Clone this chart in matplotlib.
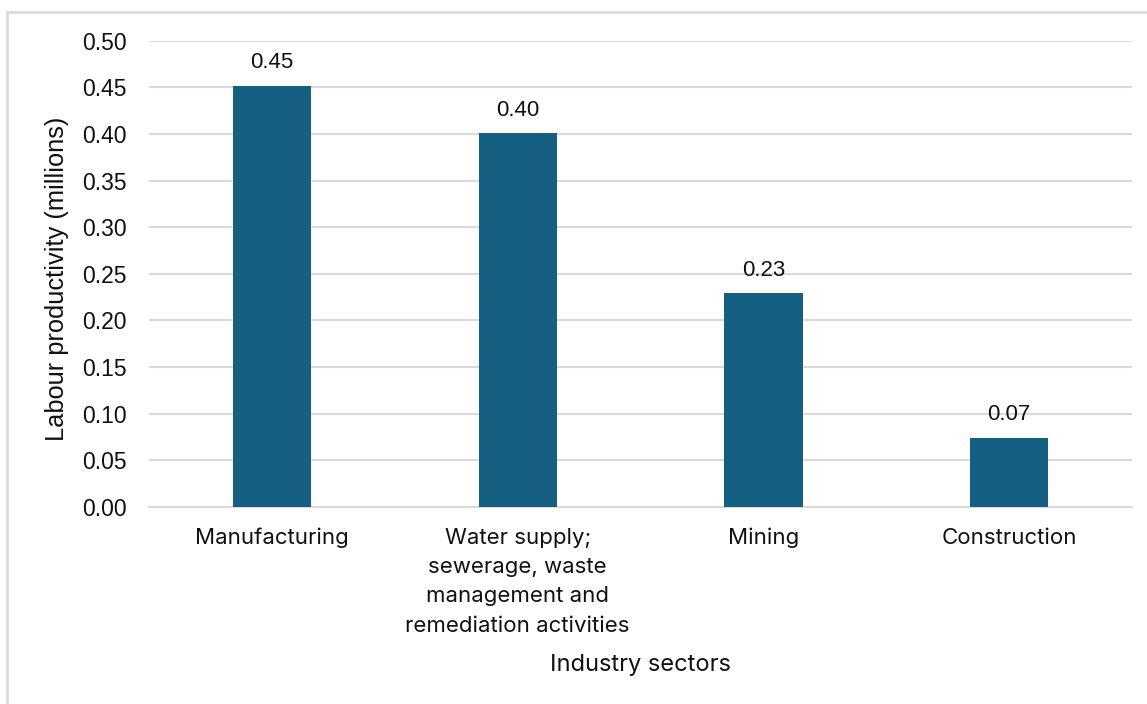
import matplotlib.pyplot as plt
from matplotlib.lines import Line2D

sectors = ['Manufacturing',
           'Water supply;\nsewerage, waste\nmanagement and\nremediation activities',
           'Mining', 'Construction']
productivity = [0.452, 0.401, 0.229, 0.074]
yticks = [0.00, 0.05, 0.10, 0.15, 0.20, 0.25, 0.30, 0.35, 0.40, 0.45, 0.50]

bar_color = '#156082'
grid_color = '#d9d9d9'
text_color = '#111111'

plt.rcParams['font.family'] = ['Liberation Sans', 'DejaVu Sans']
cat_font = ['Inter', 'DejaVu Sans']

fig = plt.figure(figsize=(11.47, 7.04), dpi=100)
ax = fig.add_axes([0.130, 0.280, 0.857, 0.662])

x = range(len(sectors))
bars = ax.bar(x, productivity, width=0.318, color=bar_color, zorder=3)
for b, v in zip(bars, productivity):
  ax.annotate(f'{v:.2f}', (b.get_x() + b.get_width() / 2, v),
              xytext=(0, 9), textcoords='offset points',
              ha='center', va='bottom', fontsize=16, color=text_color)

ax.set_xlim(-0.5, len(sectors) - 0.5)
ax.set_ylim(0, 0.5)
ax.set_yticks(yticks)
ax.set_yticklabels([f'{t:.2f}' for t in yticks], fontsize=16.5)
ax.set_xticks(list(x))
ax.set_xticklabels(sectors, linespacing=1.58, va='top', family=cat_font, fontsize=16)
ax.tick_params(length=0, colors=text_color)
ax.tick_params(axis='x', pad=15)
ax.tick_params(axis='y', pad=16)

ax.yaxis.grid(True, color=grid_color, linewidth=1.5, zorder=0)
for s in ['top', 'right', 'left']:
  ax.spines[s].set_visible(False)
ax.spines['bottom'].set_color(grid_color)
ax.spines['bottom'].set_linewidth(1.5)

ax.set_ylabel('Labour productivity (millions)', fontsize=18.3, color=text_color)
ax.yaxis.set_label_coords(-0.081, 0.49)
fig.text(0.558, 0.056, 'Industry sectors', fontsize=17, color=text_color,
         ha='center', va='center', family=cat_font)

# outer chart border
W, H = 1147, 704
fig.add_artist(Line2D([7.5 / W, 7.5 / W], [0, 1 - 12 / H], color=grid_color, lw=1.8, transform=fig.transFigure))
fig.add_artist(Line2D([7.5 / W, 1], [1 - 12 / H, 1 - 12 / H], color=grid_color, lw=1.8, transform=fig.transFigure))

fig.savefig('out.png', dpi=100)
